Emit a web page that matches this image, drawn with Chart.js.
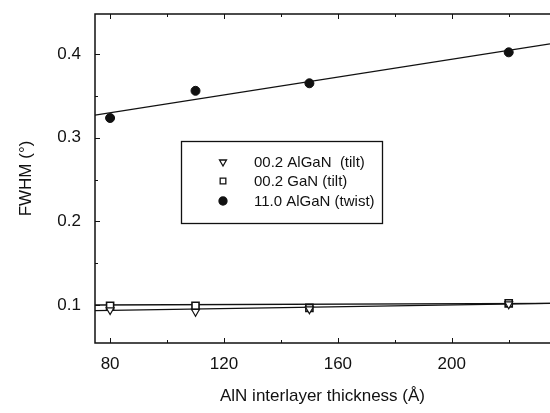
<!DOCTYPE html>
<html>
<head>
<meta charset="utf-8">
<script src="https://cdn.jsdelivr.net/npm/chart.js@4/dist/chart.umd.min.js"></script>
<style>
  html, body { margin: 0; padding: 0; background: #fff; }
  #wrap { width: 550px; height: 413px; }
</style>
</head>
<body>
<div id="wrap"><canvas id="chart"></canvas></div>
<script>
// values
const thickness = [80, 110, 150, 220];
const alganTilt = [0.094, 0.092, 0.095, 0.101];
const ganTilt = [0.099, 0.099, 0.0965, 0.102];
const alganTwist = [0.3235, 0.356, 0.365, 0.402];

// fitted lines, ends read at the plot edges
const fitX = [74.7, 234.5];
const twistFit = [0.327, 0.412];
const ganFit = [0.100, 0.102];
const alganFit = [0.0932, 0.102];

const xTicks = [80, 120, 160, 200];
const yTicks = [0.1, 0.2, 0.3, 0.4];
const legendLabels = ['00.2 AlGaN  (tilt)', '00.2 GaN (tilt)', '11.0 AlGaN (twist)'];

const FONT = "'Liberation Sans', Arial, Helvetica, sans-serif";

function pts(xs, ys) {
    return xs.map((x, i) => ({x: x, y: ys[i]}));
}

function fitLine(ys) {
    return {
        type: 'line',
        data: pts(fitX, ys),
        borderColor: '#111',
        borderWidth: 1.3,
        pointRadius: 0,
        fill: false
    };
}

// frame, inner ticks and the boxed legend
const framePlugin = {
    id: 'frame',
    afterDraw(chart) {
        const ctx = chart.ctx;
        const a = chart.chartArea;
        const xs = chart.scales.x, ys = chart.scales.y;
        ctx.save();
        ctx.strokeStyle = '#111';
        ctx.lineWidth = 1.5;
        ctx.beginPath();
        ctx.moveTo(a.right + 2, a.top);
        ctx.lineTo(a.left, a.top);
        ctx.lineTo(a.left, a.bottom);
        ctx.lineTo(a.right + 2, a.bottom);
        ctx.stroke();

        ctx.lineWidth = 1;
        ctx.beginPath();
        for (let v = 80; v <= 240; v += 20) {
            const px = Math.round(xs.getPixelForValue(v)) + 0.5;
            if (px > a.right) continue;
            const len = (v % 40 === 0) ? 5 : 3;
            ctx.moveTo(px, a.bottom); ctx.lineTo(px, a.bottom - len);
            ctx.moveTo(px, a.top); ctx.lineTo(px, a.top + len);
        }
        for (let k = 2; k <= 8; k++) {
            const v = k * 0.05;
            const py = Math.round(ys.getPixelForValue(v)) + 0.5;
            const len = (k % 2 === 0) ? 5 : 3;
            ctx.moveTo(a.left, py); ctx.lineTo(a.left + len, py);
        }
        ctx.stroke();

        // legend box
        const bx = 181, by = 141, bw = 201, bh = 82;
        ctx.lineWidth = 1.3;
        ctx.strokeRect(bx + 0.5, by + 0.5, bw, bh);
        ctx.font = '15px ' + FONT;
        ctx.textBaseline = 'middle';
        const rows = [162, 181, 201];
        const symX = 223;
        rows.forEach((ry, i) => {
            const ds = chart.data.datasets[i];
            ctx.fillStyle = ds.pointBackgroundColor;
            ctx.strokeStyle = '#111';
            Chart.helpers.drawPoint(ctx, {
                pointStyle: ds.pointStyle,
                rotation: ds.rotation || 0,
                radius: 4,
                borderWidth: 1.2
            }, symX, ry);
            ctx.fillStyle = '#111';
            ctx.fillText(legendLabels[i], 254, ry + 1);
        });
        ctx.restore();
    }
};

const ctx = document.getElementById('chart').getContext('2d');
const chart = new Chart(ctx, {
    type: 'scatter',
    data: {
        datasets: [
            {
                label: legendLabels[0],
                data: pts(thickness, alganTilt),
                pointStyle: 'triangle',
                rotation: 180,
                pointRadius: 4.5,
                pointBackgroundColor: '#fff',
                pointBorderColor: '#111',
                pointBorderWidth: 1.2
            },
            {
                label: legendLabels[1],
                data: pts(thickness, ganTilt),
                pointStyle: 'rect',
                pointRadius: 5,
                pointBackgroundColor: '#fff',
                pointBorderColor: '#111',
                pointBorderWidth: 1.6
            },
            {
                label: legendLabels[2],
                data: pts(thickness, alganTwist),
                pointStyle: 'circle',
                pointRadius: 4.5,
                pointBackgroundColor: '#111',
                pointBorderColor: '#111',
                pointBorderWidth: 1
            },
            fitLine(twistFit),
            fitLine(ganFit),
            fitLine(alganFit)
        ]
    },
    options: {
        responsive: true,
        maintainAspectRatio: false,
        animation: false,
        layout: { autoPadding: false, padding: { top: 14, right: 0, left: 0, bottom: 0 } },
        plugins: {
            legend: { display: false },
            tooltip: { enabled: false }
        },
        scales: {
            x: {
                type: 'linear',
                min: fitX[0],
                max: fitX[1],
                afterBuildTicks: s => { s.ticks = xTicks.map(v => ({value: v})); },
                afterFit: s => { s.height = 70; s.paddingLeft = 0; s.paddingRight = 0; },
                grid: { display: false, drawTicks: false },
                border: { display: false },
                ticks: { color: '#111', font: { family: FONT, size: 17 }, padding: 11, maxRotation: 0 },
                title: {
                    display: true,
                    text: 'AlN interlayer thickness (Å)',
                    color: '#111',
                    font: { family: FONT, size: 17 },
                    padding: { top: 0, bottom: 6 }
                }
            },
            y: {
                min: 0.0546,
                max: 0.4478,
                afterBuildTicks: s => { s.ticks = yTicks.map(v => ({value: v})); },
                afterFit: s => { s.width = 95; s.paddingTop = 0; s.paddingBottom = 0; },
                grid: { display: false, drawTicks: false },
                border: { display: false },
                ticks: { color: '#111', font: { family: FONT, size: 17 }, padding: 14,
                         callback: v => v.toFixed(1) },
                title: {
                    display: true,
                    text: 'FWHM (°)',
                    color: '#111',
                    font: { family: FONT, size: 17 },
                    padding: { top: 16, bottom: 0 }
                }
            }
        }
    },
    plugins: [framePlugin]
});
</script>
</body>
</html>
